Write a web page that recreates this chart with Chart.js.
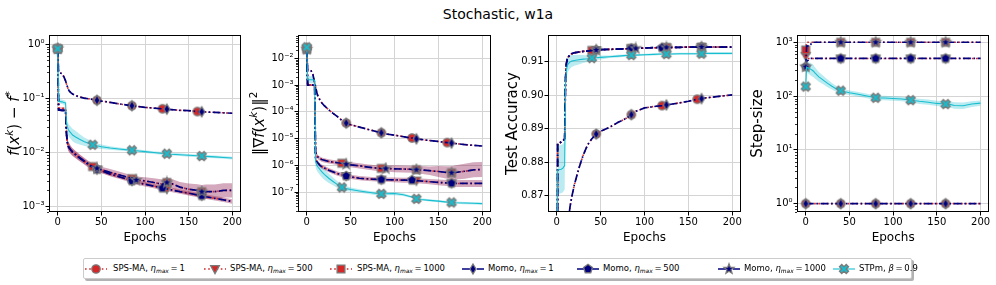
<!DOCTYPE html>
<html><head><meta charset="utf-8">
<script src="https://cdn.jsdelivr.net/npm/chart.js@4.4.1/dist/chart.umd.min.js"></script>
<style>
body{margin:0;width:996px;height:285px;background:#fff;position:relative;overflow:hidden;font-family:"DejaVu Sans",sans-serif;color:#000}
canvas.cv{position:absolute;top:0}
#title{position:absolute;top:5px;left:0;width:996px;text-align:center;font-size:14px;line-height:18px}
#legend{position:absolute;left:83px;top:258px;width:827px;height:19px;border:1px solid #cccccc;border-radius:2px;background:#fff;box-shadow:2px 2px 0 rgba(0,0,0,0.3)}
.lh{position:absolute;top:3px}
.lt{position:absolute;top:0;height:19px;line-height:19px;font-size:8.5px;white-space:nowrap}
.lt sub{font-size:70%;vertical-align:-0.3em;line-height:0}
</style></head>
<body>
<div id="title">Stochastic, w1a</div>
<canvas class="cv" id="c1" width="249" height="250" style="left:0px;width:249px;height:250px"></canvas>
<canvas class="cv" id="c2" width="251" height="250" style="left:248px;width:251px;height:250px"></canvas>
<canvas class="cv" id="c3" width="249" height="250" style="left:500px;width:249px;height:250px"></canvas>
<canvas class="cv" id="c4" width="249" height="250" style="left:747px;width:249px;height:250px"></canvas>
<div id="legend"></div>
<script>
// ---------------- DATA ----------------
const epochs = [0,1,5,7,9,10,11,12,13,15,17,20,25,30,35,40,45,50,60,70,80,85,90,100,110,120,125,130,140,150,160,165,170,180,190,200];
const xTicks = [0,50,100,150,200];

// Panel 1: f(x^k) - f*
const p1_yTicks = [1,0.1,0.01,0.001];
const p1_yTickLabels = ['10⁰','10⁻¹','10⁻²','10⁻³'];
const p1_eta1 = [0.82,0.30,0.285,0.25,0.21, 0.185,0.165,0.148,0.138,0.127, 0.12,0.113,0.106,0.101,0.098, 0.095,0.092,0.089,0.084,0.079, 0.075,0.073,0.071,0.068,0.066, 0.064,0.063,0.062,0.060,0.059, 0.057,0.0565,0.056,0.055,0.054, 0.053];
const p1_sps500 = [0.82,0.066,0.065,0.065,0.064, 0.022,0.015,0.013,0.0122,0.011, 0.0101,0.0092,0.0079,0.0069,0.006, 0.0053,0.0049,0.0046,0.0040,0.0036, 0.0032,0.0030,0.0028,0.0026,0.0024, 0.0022,0.00213,0.00205,0.0019,0.00178, 0.00165,0.0016,0.00153,0.00143,0.00134, 0.00125];
const p1_momo500 = [0.82,0.061,0.060,0.060,0.059, 0.022,0.015,0.013,0.0122,0.011, 0.0101,0.0092,0.0079,0.0069,0.006, 0.0053,0.0049,0.0046,0.0040,0.0036, 0.0032,0.0030,0.0028,0.0026,0.0024, 0.0022,0.00213,0.00205,0.0019,0.00178, 0.00165,0.0016,0.00153,0.00143,0.00134, 0.00125];
const p1_sps1000 = [0.82,0.066,0.065,0.065,0.064, 0.023,0.0155,0.0134,0.0125,0.0112, 0.0103,0.0094,0.0081,0.0071,0.0062, 0.0055,0.0051,0.0048,0.0043,0.0039, 0.0035,0.0033,0.0031,0.0030,0.0028, 0.0026,0.0028,0.0027,0.0023,0.0021, 0.0020,0.0019,0.0019,0.0019,0.0020, 0.0020];
const p1_momo1000 = [0.82,0.061,0.060,0.060,0.059, 0.023,0.0155,0.0134,0.0125,0.0112, 0.0103,0.0094,0.0081,0.0071,0.0062, 0.0055,0.0051,0.0048,0.0043,0.0039, 0.0035,0.0033,0.0031,0.0030,0.0028, 0.0026,0.0028,0.0027,0.0023,0.0021, 0.0020,0.0019,0.0019,0.0019,0.0020, 0.0020];
const p1_stpm = [0.82,0.088,0.086,0.084,0.082, 0.036,0.030,0.027,0.025,0.023, 0.021,0.0195,0.0175,0.016,0.0148, 0.0139,0.0133,0.0128,0.0121,0.0116, 0.0112,0.011,0.0108,0.0104,0.0100, 0.0096,0.0095,0.0093,0.0091,0.0089, 0.0087,0.0086,0.0085,0.0083,0.0081, 0.0079];
const p1_spread500 = [1,1.05,1.05,1.05,1.05, 1.2,1.2,1.2,1.2,1.18, 1.17,1.16,1.15,1.14,1.13, 1.12,1.11,1.1,1.1,1.1, 1.1,1.1,1.1,1.1,1.1, 1.1,1.1,1.1,1.1,1.1, 1.1,1.1,1.1,1.1,1.1, 1.1];
const p1_spread1000 = [1,1.05,1.05,1.05,1.05, 1.2,1.2,1.2,1.2,1.18, 1.17,1.16,1.15,1.14,1.14, 1.14,1.14,1.14,1.15,1.15, 1.15,1.15,1.16,1.17,1.2, 1.22,1.24,1.22,1.25,1.28, 1.3,1.32,1.35,1.35,1.35, 1.35];
const p1_spreadStp = [1,1.1,1.1,1.1,1.1, 1.3,1.3,1.3,1.3,1.3, 1.3,1.3,1.25,1.2,1.17, 1.14,1.12,1.1,1.08,1.07, 1.06,1.06,1.06,1.06,1.06, 1.06,1.06,1.06,1.06,1.06, 1.06,1.06,1.06,1.06,1.06, 1.06];

// Panel 2: ||grad f(x^k)||^2
const p2_yTicks = [1e-2,1e-3,1e-4,1e-5,1e-6,1e-7];
const p2_yTickLabels = ['10⁻²','10⁻³','10⁻⁴','10⁻⁵','10⁻⁶','10⁻⁷'];
const p2_eta1 = [0.024,0.0035,0.0034,0.0025,0.0012, 0.0009,0.0006,0.00045,0.00037,0.00028, 0.00022,0.00017,0.00012,0.000088,0.000066, 0.000048,0.000038,0.000033,0.000027,0.000022, 0.000018,0.0000165,0.000015,0.0000135,0.0000118, 0.0000105,0.0000098,0.0000093,0.0000085,0.0000078, 0.0000071,0.0000068,0.0000065,0.000006,0.0000056, 0.0000053];
const p2_eta500 = [0.022,0.001,0.001,0.001,0.00095, 1.8e-6,1.45e-6,1.3e-6,1.2e-6,1.0e-6, 9e-7,8e-7,6.6e-7,5.7e-7,4.9e-7, 4.4e-7,4.0e-7,3.7e-7,3.3e-7,3.1e-7, 3.0e-7,2.95e-7,2.9e-7,2.85e-7,2.8e-7, 2.8e-7,2.7e-7,2.6e-7,2.45e-7,2.3e-7, 2.2e-7,2.15e-7,2.1e-7,2.1e-7,2.1e-7, 2.1e-7];
const p2_eta1000 = [0.022,0.001,0.001,0.001,0.00095, 3e-6,2.5e-6,2.2e-6,2.0e-6,1.8e-6, 1.65e-6,1.55e-6,1.4e-6,1.32e-6,1.25e-6, 1.2e-6,1.1e-6,1.05e-6,9.6e-7,8.6e-7, 7.8e-7,7.7e-7,7.6e-7,7.4e-7,7.3e-7, 7.1e-7,6.9e-7,6.8e-7,6.3e-7,5.9e-7, 5.4e-7,5.3e-7,5.5e-7,6.0e-7,6.8e-7, 7.0e-7];
const p2_stpm = [0.026,0.0016,0.0016,0.0016,0.0015, 1.4e-6,1.1e-6,9.5e-7,8.5e-7,7e-7, 5.8e-7,4.6e-7,3.3e-7,2.5e-7,1.9e-7, 1.5e-7,1.35e-7,1.25e-7,1.1e-7,9.8e-8, 8.8e-8,8.6e-8,8.7e-8,8.8e-8,8.0e-8, 6.5e-8,5.6e-8,5.3e-8,4.9e-8,4.6e-8, 4.2e-8,4.1e-8,4.0e-8,3.9e-8,3.8e-8, 3.7e-8];
const p2_spread500 = [1,1.05,1.05,1.05,1.05, 1.2,1.2,1.2,1.2,1.2, 1.2,1.2,1.2,1.2,1.2, 1.2,1.2,1.2,1.2,1.2, 1.2,1.2,1.2,1.22,1.24, 1.25,1.25,1.25,1.25,1.28, 1.3,1.32,1.35,1.35,1.35, 1.35];
const p2_spread1000 = [1,1.05,1.05,1.05,1.05, 1.2,1.2,1.2,1.2,1.2, 1.2,1.2,1.2,1.2,1.22, 1.25,1.25,1.25,1.25,1.25, 1.28,1.3,1.3,1.35,1.35, 1.35,1.35,1.4,1.45,1.6, 1.7,1.75,1.85,1.9,1.9, 1.9];
const p2_spreadStp = [1,1.35,1.35,1.35,1.35, 1.6,1.6,1.6,1.6,1.6, 1.6,1.6,1.5,1.4,1.35, 1.3,1.25,1.2,1.15,1.15, 1.15,1.15,1.15,1.15,1.12, 1.1,1.1,1.1,1.1,1.1, 1.1,1.1,1.1,1.1,1.1, 1.1];

// Panel 3: Test Accuracy
const p3_yTicks = [0.87,0.88,0.89,0.90,0.91];
const p3_yTickLabels = ['0.87','0.88','0.89','0.90','0.91'];
const p3_eta1 = [0.60,0.72,0.81,0.83,0.845, 0.85,0.855,0.859,0.862,0.8665, 0.8695,0.8732,0.878,0.882,0.8851, 0.887,0.8884,0.8892,0.8904,0.8919, 0.8932,0.8942,0.8952,0.8962,0.8966, 0.8969,0.8971,0.8973,0.8977,0.8982, 0.8988,0.899,0.8992,0.8995,0.8998, 0.9001];
const p3_top = [0.60,0.8855,0.886,0.8863,0.887, 0.905,0.9095,0.9108,0.9114,0.912, 0.9124,0.9127,0.9129,0.9131,0.9132, 0.9134,0.9135,0.9136,0.9137,0.9138, 0.9139,0.914,0.914,0.9141,0.9142, 0.9142,0.9143,0.9143,0.9143,0.9144, 0.9144,0.9144,0.9144,0.9144,0.9144, 0.9144];
const p3_stpm = [0.60,0.8777,0.8779,0.8782,0.879, 0.9035,0.9075,0.9088,0.9094,0.9099, 0.9102,0.9104,0.9106,0.9108,0.9109, 0.9111,0.9112,0.9113,0.9115,0.9117, 0.9119,0.912,0.912,0.9121,0.9122, 0.9123,0.9123,0.9123,0.9124,0.9124, 0.9124,0.9124,0.9125,0.9125,0.9125, 0.9125];
const p3_halfStp = [0,0.0072,0.0072,0.0072,0.0072, 0.004,0.003,0.0025,0.0022,0.002, 0.0018,0.0016,0.0014,0.0012,0.001, 0.0008,0.0007,0.0006,0.0004,0.0004, 0.0003,0.0003,0.0003,0.0003,0.0003, 0.0003,0.0003,0.0003,0.0003,0.0003, 0.0003,0.0003,0.0003,0.0003,0.0003, 0.0003];

// Panel 4: Step-size
const p4_yTicks = [1,10,100,1000];
const p4_yTickLabels = ['10⁰','10¹','10²','10³'];
const p4_eta1 = [1,1,1,1,1,1,1,1,1,1, 1,1,1,1,1,1,1,1,1,1, 1,1,1,1,1,1,1,1,1,1, 1,1,1,1,1,1];
const p4_sps500 = [560,500,500,500,500,500,500,500,500,500, 500,500,500,500,500,500,500,500,500,500, 500,500,500,500,500,500,500,500,500,500, 500,500,500,500,500,500];
const p4_sps1000 = [720,1000,1000,1000,1000,1000,1000,1000,1000,1000, 1000,1000,1000,1000,1000,1000,1000,1000,1000,1000, 1000,1000,1000,1000,1000,1000,1000,1000,1000,1000, 1000,1000,1000,1000,1000,1000];
const p4_momo500 = [350,440,500,500,500,500,500,500,500,500, 500,500,500,500,500,500,500,500,500,500, 500,500,500,500,500,500,500,500,500,500, 500,500,500,500,500,500];
const p4_momo1000 = [350,850,860,1000,1000,1000,1000,1000,1000,1000, 1000,1000,1000,1000,1000,1000,1000,1000,1000,1000, 1000,1000,1000,1000,1000,1000,1000,1000,1000,1000, 1000,1000,1000,1000,1000,1000];
const p4_stpm = [150,345,320,305,290, 275,265,255,245,228, 215,198,172,152,136, 126,120,115,108,100, 93,92,92,90,88, 84,82,80,77,73, 71,70,67,66,71, 74];
const p4_spreadStp = [2.6,1.25,1.3,1.3,1.3, 1.28,1.27,1.26,1.25,1.23, 1.22,1.2,1.18,1.15,1.13, 1.12,1.11,1.1,1.1,1.1, 1.1,1.1,1.1,1.1,1.1, 1.1,1.1,1.12,1.12,1.12, 1.13,1.14,1.15,1.15,1.13, 1.12];

// marker epochs
const MK = {sps1:[0,45,85,120,160], sps500:[0,45,85,125,165], sps1000:[0,40,85,125,165], momo1:[0,45,85,125,165], momo500:[0,45,85,120,165], momo1000:[0,45,90,125,165], stpm:[0,40,85,125,165]};
const MK4 = [0,40,80,120,160];

// legend labels
const seriesKeys = ['sps1','sps500','sps1000','momo1','momo500','momo1000','stpm'];
const methodNames = ['SPS-MA','SPS-MA','SPS-MA','Momo','Momo','Momo','STPm'];
const etaMax = [1,500,1000,1,500,1000];
const betaVal = 0.9;

// axis label pieces: [text, italic, superscript]
const p1_yLabel = [['f',1,0],['(',0,0],['x',1,0],['k',1,1],[') − ',0,0],['f',1,0],['*',0,1]];
const p2_yLabel = [['‖∇',0,0],['f',1,0],['(',0,0],['x',1,0],['k',1,1],[')‖',0,0],['2',0,1]];
const p3_yLabel = [['Test Accuracy',0,0]];
const p4_yLabel = [['Step-size',0,0]];

// ---------------- STYLE ----------------
const RED='#d62728', NAVY='#00007f', CYAN='#17becf', EDGE='#7a7a7a';
const DOT=[1.6,2.6], DASHDOT=[8,2.6,1.6,2.6];
const STY = {
  sps1:{color:RED,dash:DOT,lw:1.6,marker:'o',band:'rgba(214,39,40,0.22)'},
  sps500:{color:RED,dash:DOT,lw:1.6,marker:'v',band:'rgba(214,39,40,0.22)'},
  sps1000:{color:RED,dash:DOT,lw:1.6,marker:'s',band:'rgba(214,39,40,0.22)'},
  momo1:{color:NAVY,dash:DASHDOT,lw:1.7,marker:'d',band:'rgba(40,0,130,0.2)'},
  momo500:{color:NAVY,dash:DASHDOT,lw:1.7,marker:'p',band:'rgba(40,0,130,0.2)'},
  momo1000:{color:NAVY,dash:DASHDOT,lw:1.7,marker:'*',band:'rgba(40,0,130,0.2)'},
  stpm:{color:CYAN,dash:[],lw:1.1,marker:'X',band:'rgba(23,190,207,0.3)'}
};

function drawMarker(g,type,x,y,fill){
  g.save(); g.translate(x,y); g.beginPath();
  if(type==='o'){ g.arc(0,0,4.2,0,Math.PI*2); }
  else if(type==='v'){ g.moveTo(-4.4,-3.4); g.lineTo(4.4,-3.4); g.lineTo(0,4.6); g.closePath(); }
  else if(type==='s'){ g.rect(-3.9,-3.9,7.8,7.8); }
  else if(type==='d'){ g.moveTo(0,-5); g.lineTo(3,0); g.lineTo(0,5); g.lineTo(-3,0); g.closePath(); }
  else if(type==='p'){ for(let i=0;i<5;i++){const a=-Math.PI/2+i*2*Math.PI/5; g.lineTo(4.7*Math.cos(a),4.7*Math.sin(a));} g.closePath(); }
  else if(type==='*'){ for(let i=0;i<10;i++){const a=-Math.PI/2+i*Math.PI/5; const rr=i%2?2.2:5.2; g.lineTo(rr*Math.cos(a),rr*Math.sin(a));} g.closePath(); }
  else if(type==='X'){ const t=1.6,L=4.8; const pts=[[t,L],[t,t],[L,t],[L,-t],[t,-t],[t,-L],[-t,-L],[-t,-t],[-L,-t],[-L,t],[-t,t],[-t,L]]; const c=Math.SQRT1_2; pts.forEach(([px,py],i)=>{const rx=(px-py)*c, ry=(px+py)*c; if(i)g.lineTo(rx,ry); else g.moveTo(rx,ry);}); g.closePath(); }
  g.fillStyle=fill; g.fill(); g.lineWidth=1.3; g.strokeStyle=EDGE; g.stroke(); g.restore();
}
function markerCanvas(type,fill){ const c=document.createElement('canvas'); c.width=14; c.height=14; drawMarker(c.getContext('2d'),type,7,7,fill); return c; }
const MARKERS = {}; seriesKeys.forEach(k=>{MARKERS[k]=markerCanvas(STY[k].marker,STY[k].color);});

const framePlugin = {
  id:'frame',
  afterDraw(chart){
    const {ctx, chartArea:a} = chart; const ys = chart.scales.y;
    ctx.save(); ctx.strokeStyle='#000';
    if(ys.type==='logarithmic'){
      ctx.lineWidth=0.8;
      for(let d=Math.floor(Math.log10(ys.min)); d<=Math.ceil(Math.log10(ys.max)); d++){
        for(let m=2;m<=9;m++){ const v=m*Math.pow(10,d); if(v<ys.min||v>ys.max) continue;
          const y=Math.round(ys.getPixelForValue(v))+0.5; ctx.beginPath(); ctx.moveTo(a.left-2,y); ctx.lineTo(a.left,y); ctx.stroke(); }
      }
    }
    ctx.lineWidth=1;
    ctx.strokeRect(Math.round(a.left)+0.5, Math.round(a.top)+0.5, Math.round(a.right-a.left)-1, Math.round(a.bottom-a.top)-1);
    ctx.restore();
  }
};

function richLabelPlugin(pieces, cx, size){
  return {
    id:'richLabel',
    afterDraw(chart){
      const {ctx, chartArea:a} = chart;
      const font=(p)=> (p[1]?'italic ':'') + (p[2]? size*0.7 : size) + 'px "DejaVu Sans"';
      ctx.save();
      let total=0; const w=pieces.map(p=>{ctx.font=font(p); const m=ctx.measureText(p[0]).width; total+=m; return m;});
      ctx.translate(cx,(a.top+a.bottom)/2); ctx.rotate(-Math.PI/2);
      ctx.fillStyle='#000'; ctx.textBaseline='alphabetic'; ctx.textAlign='left';
      let x=-total/2; const base=size*0.36;
      pieces.forEach((p,i)=>{ ctx.font=font(p); ctx.fillText(p[0], x, p[2]? base-size*0.42 : base); x+=w[i]; });
      ctx.restore();
    }
  };
}

const GRID='#d4d4d4';
function build(id, cfg){
  const ds=[];
  cfg.series.forEach(s=>{
    if(!s.sp) return;
    const st=STY[s.k];
    const lo=s.v.map((v,j)=>({x:epochs[j], y: cfg.add ? v - s.sp[j] : v / s.sp[j]}));
    const hi=s.v.map((v,j)=>({x:epochs[j], y: cfg.add ? v + s.sp[j] : v * s.sp[j]}));
    ds.push({data:lo, borderWidth:0, borderColor:'transparent', pointRadius:0, fill:false, order:100});
    ds.push({data:hi, borderWidth:0, borderColor:'transparent', pointRadius:0, fill:'-1', backgroundColor:st.band, order:100});
  });
  cfg.series.forEach((s,i)=>{
    const st=STY[s.k]; const marks=cfg.marks ? cfg.marks : MK[s.k];
    ds.push({data:s.v.map((v,j)=>({x:epochs[j],y:v})), borderColor:st.color, borderWidth:st.lw, borderDash:st.dash,
      fill:false, tension:0, pointStyle:MARKERS[s.k], pointRadius:(c)=> (c.dataIndex!==undefined && marks.includes(epochs[c.dataIndex])) ? 5 : 0,
      pointHoverRadius:0, pointHitRadius:0, order:10-i});
  });
  const tickFont={family:'DejaVu Sans', size:10};
  new Chart(document.getElementById(id), {
    type:'line',
    data:{datasets:ds},
    plugins:[framePlugin, richLabelPlugin(cfg.yLabel, cfg.labelX, 15)],
    options:{
      responsive:false, animation:false, devicePixelRatio:1, events:[],
      layout:{padding:{top:35,right:cfg.rightPad,left:0,bottom:0}},
      plugins:{legend:{display:false}, tooltip:{enabled:false}},
      scales:{
        x:{type:'linear', min:-10, max:210,
          afterBuildTicks:(s)=>{ s.ticks = xTicks.map(v=>({value:v})); },
          afterFit:(s)=>{ s.height=38; },
          ticks:{font:tickFont, color:'#000', padding:1, maxRotation:0, autoSkip:false, callback:(v)=>String(v)},
          grid:{color:GRID, lineWidth:1, tickColor:'#000', tickLength:3.5},
          border:{display:false},
          title:{display:true, text:'Epochs', color:'#000', font:{family:'DejaVu Sans', size:12}, padding:{top:0,bottom:5}}
        },
        y:{type:cfg.yType, min:cfg.yMin, max:cfg.yMax,
          afterBuildTicks:(s)=>{ s.ticks = cfg.yTicks.map(v=>({value:v})); },
          afterFit:(s)=>{ s.width=cfg.axisW; },
          ticks:{font:tickFont, color:'#000', padding:1, autoSkip:false, callback:(v,i)=>cfg.yTickLabels[i]},
          grid:{color:GRID, lineWidth:1, tickColor:'#000', tickLength:3.5},
          border:{display:false},
          title:{display:false}
        }
      }
    }
  });
}

build('c1', {yType:'logarithmic', yMin:8e-4, yMax:1.47, yTicks:p1_yTicks, yTickLabels:p1_yTickLabels, yLabel:p1_yLabel, labelX:13.5, axisW:49, rightPad:8,
  series:[{k:'sps1',v:p1_eta1},{k:'sps500',v:p1_sps500,sp:p1_spread500},{k:'sps1000',v:p1_sps1000,sp:p1_spread1000},
          {k:'momo1',v:p1_eta1},{k:'momo500',v:p1_momo500,sp:p1_spread500},{k:'momo1000',v:p1_momo1000,sp:p1_spread1000},{k:'stpm',v:p1_stpm,sp:p1_spreadStp}]});
build('c2', {yType:'logarithmic', yMin:1.8e-8, yMax:0.075, yTicks:p2_yTicks, yTickLabels:p2_yTickLabels, yLabel:p2_yLabel, labelX:10.3, axisW:50, rightPad:8,
  series:[{k:'sps1',v:p2_eta1},{k:'sps500',v:p2_eta500,sp:p2_spread500},{k:'sps1000',v:p2_eta1000,sp:p2_spread1000},
          {k:'momo1',v:p2_eta1},{k:'momo500',v:p2_eta500,sp:p2_spread500},{k:'momo1000',v:p2_eta1000,sp:p2_spread1000},{k:'stpm',v:p2_stpm,sp:p2_spreadStp}]});
build('c3', {yType:'linear', yMin:0.8651, yMax:0.918, add:true, yTicks:p3_yTicks, yTickLabels:p3_yTickLabels, yLabel:p3_yLabel, labelX:11.7, axisW:48, rightPad:8,
  series:[{k:'sps1',v:p3_eta1},{k:'sps500',v:p3_top},{k:'sps1000',v:p3_top},
          {k:'momo1',v:p3_eta1},{k:'momo500',v:p3_top},{k:'momo1000',v:p3_top},{k:'stpm',v:p3_stpm,sp:p3_halfStp}]});
build('c4', {yType:'logarithmic', yMin:0.72, yMax:1365, yTicks:p4_yTicks, yTickLabels:p4_yTickLabels, yLabel:p4_yLabel, labelX:9.7, axisW:50, rightPad:6, marks:MK4,
  series:[{k:'sps1',v:p4_eta1},{k:'sps500',v:p4_sps500},{k:'sps1000',v:p4_sps1000},
          {k:'momo1',v:p4_eta1},{k:'momo500',v:p4_momo500},{k:'momo1000',v:p4_momo1000},{k:'stpm',v:p4_stpm,sp:p4_spreadStp}]});

// ---------------- LEGEND ----------------
const legCenters=[12,131,257,389,504,645,760];
const legText=[29,146,273,404,519,660,775];
const leg=document.getElementById('legend');
seriesKeys.forEach((k,i)=>{
  const st=STY[k];
  const c=document.createElement('canvas'); c.width=22; c.height=14; c.className='lh'; c.style.left=(legCenters[i]-11)+'px';
  const g=c.getContext('2d'); g.strokeStyle=st.color; g.lineWidth=st.lw; g.setLineDash(st.dash); g.beginPath(); g.moveTo(0,7); g.lineTo(22,7); g.stroke(); g.setLineDash([]);
  drawMarker(g,st.marker,11,7,st.color);
  leg.appendChild(c);
  const t=document.createElement('span'); t.className='lt'; t.style.left=legText[i]+'px';
  t.innerHTML = i<6 ? methodNames[i]+', <i>η</i><sub><i>max</i></sub>&#8201;=&#8201;'+etaMax[i] : methodNames[i]+', <i>β</i>&#8201;=&#8201;'+betaVal;
  leg.appendChild(t);
});
</script>
</body></html>
